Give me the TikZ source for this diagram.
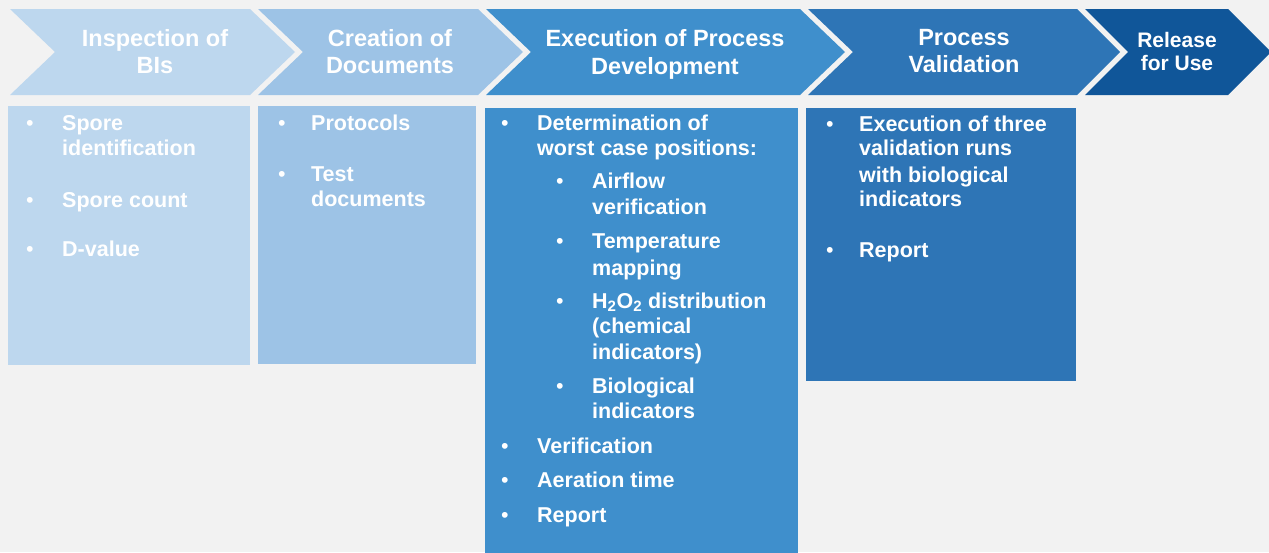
\documentclass[tikz,border=0pt]{standalone}
\usepackage{fontspec}
\setmainfont{Liberation Sans}

\definecolor{bggray}{HTML}{F2F2F2}
\definecolor{stepA}{HTML}{BDD7EE}
\definecolor{stepB}{HTML}{9DC3E6}
\definecolor{stepC}{HTML}{3F8FCC}
\definecolor{stepD}{HTML}{2E75B6}
\definecolor{stepE}{HTML}{105699}

\tikzset{
  hdr/.style={anchor=base, text=white, inner sep=0pt,
    font=\fontsize{23.5}{28}\selectfont\bfseries},
  hdrsmall/.style={hdr, font=\fontsize{21}{25}\selectfont\bfseries},
  txt/.style={anchor=base west, text=white, inner sep=0pt,
    font=\fontsize{21.5}{25}\selectfont\bfseries},
  dot/.style={anchor=base, text=white, inner sep=0pt,
    font=\fontsize{21.5}{25}\selectfont}
}

\begin{document}
\begin{tikzpicture}[x=1pt,y=-1pt]

\fill[bggray] (0,0) rectangle (1269,552);
\useasboundingbox (0,0) rectangle (1269,552);

% process steps
\fill[stepA] (10,9) -- (250,9) -- (295,52) -- (250,95) -- (10,95) -- (55,52) -- cycle;
\fill[stepB] (258,9) -- (478,9) -- (523,52) -- (478,95) -- (258,95) -- (303,52) -- cycle;
\fill[stepC] (486,9) -- (800,9) -- (845,52) -- (800,95) -- (486,95) -- (531,52) -- cycle;
\fill[stepD] (808,9) -- (1077,9) -- (1120,52) -- (1077,95) -- (808,95) -- (853,52) -- cycle;
\fill[stepE] (1085,9) -- (1228,9) -- (1271,52) -- (1228,95) -- (1085,95) -- (1128,52) -- cycle;

\node [hdr] (inspA) at (155,46) {Inspection of};
\node [hdr] (inspB) at (155,73) {BIs};
\node [hdr] (creaA) at (390,46) {Creation of};
\node [hdr] (creaB) at (390,73) {Documents};
\node [hdr] (execA) at (665,46) {Execution of Process};
\node [hdr] (execB) at (665,74) {Development};
\node [hdr] (validA) at (964,45) {Process};
\node [hdr] (validB) at (964,72) {Validation};
\node [hdrsmall] (relA) at (1177,47) {Release};
\node [hdrsmall] (relB) at (1177,70) {for Use};

% boxes below the steps
\fill[stepA] (8,106) rectangle (250,365);
\fill[stepB] (258,106) rectangle (476,364);
\fill[stepC] (485,108) rectangle (798,560);
\fill[stepD] (806,108) rectangle (1076,381);

% inspection of BIs
\node [dot] (dA1) at (30,130) {•};
\node [txt] (tA1) at (62,130) {Spore};
\node [txt] (tA1b) at (62,155) {identification};
\node [dot] (dA2) at (30,207) {•};
\node [txt] (tA2) at (62,207) {Spore count};
\node [dot] (dA3) at (30,256) {•};
\node [txt] (tA3) at (62,256) {D-value};

% creation of documents
\node [dot] (dB1) at (282,130) {•};
\node [txt] (tB1) at (311,130) {Protocols};
\node [dot] (dB2) at (282,181) {•};
\node [txt] (tB2) at (311,181) {Test};
\node [txt] (tB2b) at (311,206) {documents};

% process development
\node [dot] (dC1) at (505,130) {•};
\node [txt] (tC1) at (537,130) {Determination of};
\node [txt] (tC1b) at (537,155) {worst case positions:};
\node [dot] (dC11) at (560,188) {•};
\node [txt] (tC11) at (592,188) {Airflow};
\node [txt] (tC11b) at (592,214) {verification};
\node [dot] (dC12) at (560,248) {•};
\node [txt] (tC12) at (592,248) {Temperature};
\node [txt] (tC12b) at (592,275) {mapping};
\node [dot] (dC13) at (560,308) {•};
\node [txt] (tC13) at (592,308) {H\textsubscript{2}O\textsubscript{2} distribution};
\node [txt] (tC13b) at (592,333) {(chemical};
\node [txt] (tC13c) at (592,359) {indicators)};
\node [dot] (dC14) at (560,393) {•};
\node [txt] (tC14) at (592,393) {Biological};
\node [txt] (tC14b) at (592,418) {indicators};
\node [dot] (dC2) at (505,453) {•};
\node [txt] (tC2) at (537,453) {Verification};
\node [dot] (dC3) at (505,487) {•};
\node [txt] (tC3) at (537,487) {Aeration time};
\node [dot] (dC4) at (505,522) {•};
\node [txt] (tC4) at (537,522) {Report};

% process validation
\node [dot] (dD1) at (830,131) {•};
\node [txt] (tD1) at (859,131) {Execution of three};
\node [txt] (tD1b) at (859,155) {validation runs};
\node [txt] (tD1c) at (859,182) {with biological};
\node [txt] (tD1d) at (859,206) {indicators};
\node [dot] (dD2) at (830,257) {•};
\node [txt] (tD2) at (859,257) {Report};

\end{tikzpicture}
\end{document}
